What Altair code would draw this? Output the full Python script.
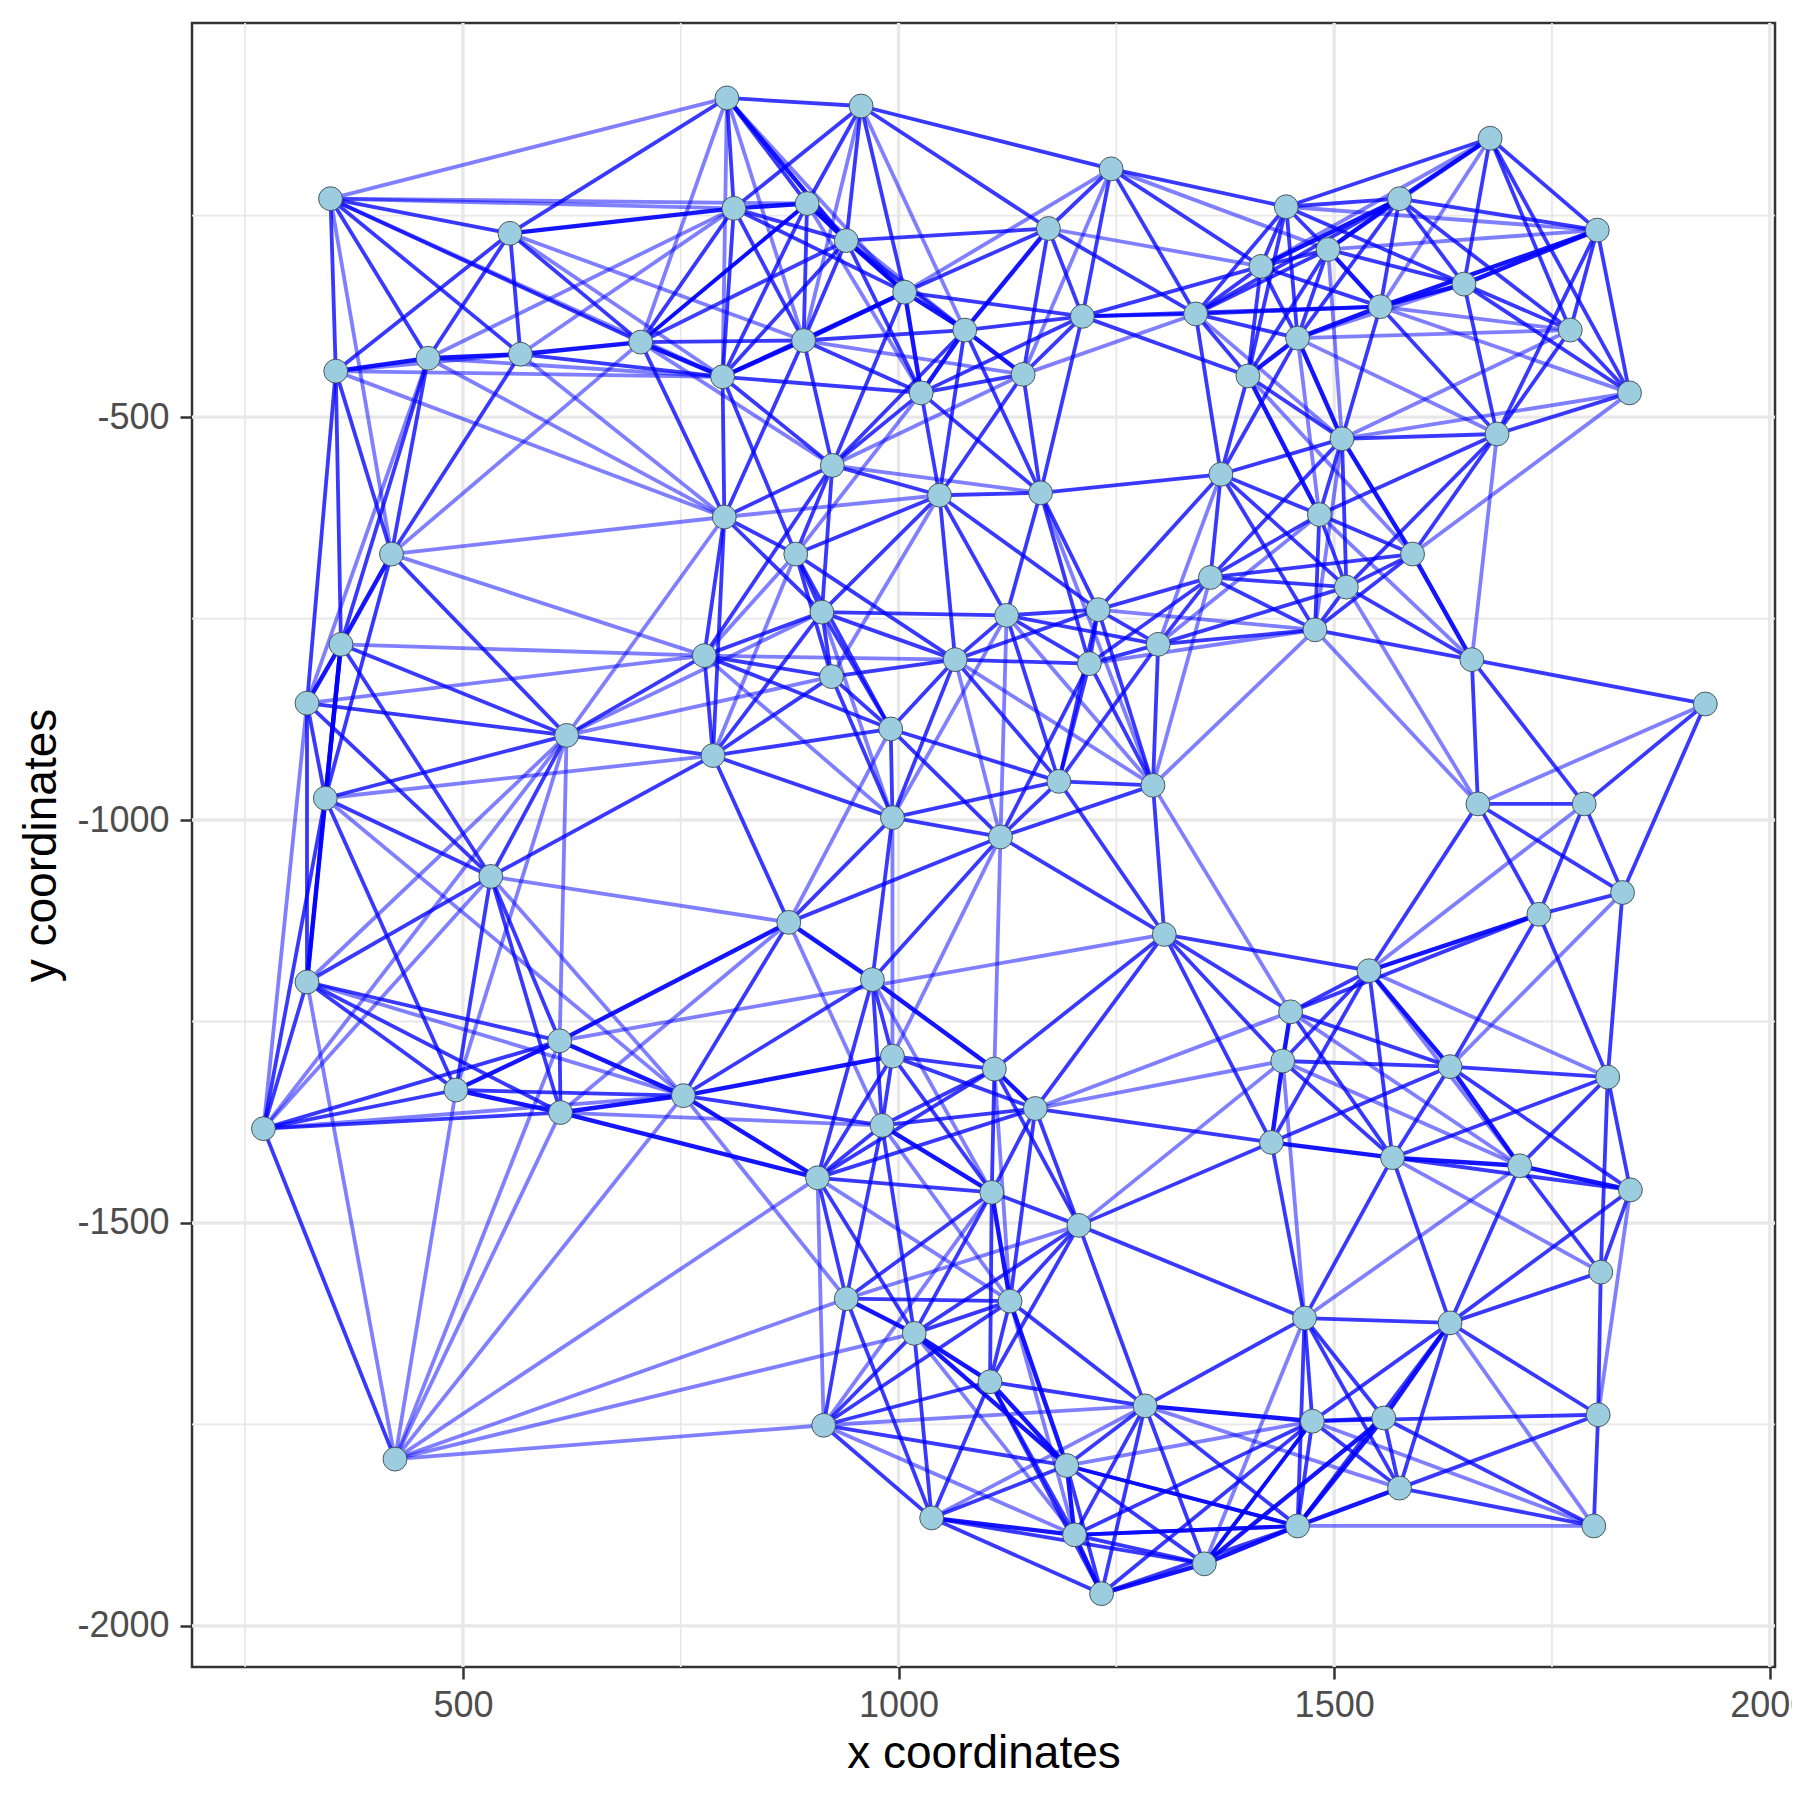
import altair as alt
import pandas as pd

node_x = [803,957,1244,1679,348,554,811,895,940,1172,1445,1575,1802,1493,1416,1007,1649,1553,1341,1211,
          1076,1771,1458,891,704,566,460,354,798,1143,1401,1026,1839,1687,1509,924,1370,1047,1163,1483,
          800,418,882,1590,1358,1514,912,1124,1229,1478,360,1298,777,1065,1219,1658,923,321,1926,619,
          991,787,1184,1292,342,1665,1787,993,1117,532,1831,1735,874,1305,1540,970,321,1450,611,993,
          1441,1110,1633,1814,492,753,1157,612,981,271,1428,1567,1713,907,1840,1107,1207,1806,940,1128,
          1466,1633,1018,1105,1283,1803,1475,1557,914,422,1193,1575,1038,1458,1798,1202,1351,1233]
node_y = [-104,-114,-192,-154,-229,-272,-241,-235,-281,-266,-239,-229,-268,-292,-313,-345,-335,-363,-372,-375,
          -392,-392,-402,-405,-407,-422,-427,-443,-450,-447,-449,-470,-470,-521,-527,-560,-571,-597,-594,-621,
          -624,-670,-670,-670,-699,-711,-742,-746,-739,-764,-782,-782,-796,-801,-806,-801,-822,-855,-856,-895,
          -887,-920,-952,-957,-973,-980,-980,-997,-1021,-1070,-1090,-1117,-1127,-1142,-1187,-1198,-1201,-1238,-1274,-1293,
          -1299,-1309,-1306,-1319,-1335,-1342,-1358,-1363,-1379,-1383,-1400,-1419,-1429,-1444,-1459,-1462,-1503,-1561,-1594,-1597,
          -1618,-1624,-1637,-1697,-1727,-1738,-1746,-1742,-1751,-1793,-1801,-1829,-1866,-1876,-1876,-1887,-1923,-1960]

heavy_edges = [(25,26),(24,25),(26,27),(5,6),(24,28),(41,50),(50,57),(50,76),(50,64),(84,87),(78,85),(85,87),(85,93),
    (87,93),(72,78),(72,75),(78,84),(79,85),(6,7),(7,8),(0,8),(8,15),(15,20),(20,9),(15,23),(23,28),(20,29),(31,20),
    (15,31),(11,14),(11,13),(3,11),(12,17),(12,16),(16,17),(17,22),(22,30),(30,39),(22,34),(34,43),(13,17),(43,55),
    (71,74),(77,80),(80,90),(74,82),(82,92),(90,91),(91,92),(92,94),(101,107),(107,113),(107,116),(111,113),(113,116),
    (116,117),(115,117),(112,115),(102,103),(102,110),(103,110),(110,115),(99,110),(75,81),(88,95),(95,99),(81,86),
    (104,106),(98,102)]

strong_edges = [(4,5),(4,27),(4,26),(4,25),(4,24),(5,0),(5,27),(5,26),(5,25),(5,24),(26,41),(26,50),(25,28),(25,41),
    (24,40),(24,6),(24,7),(24,23),(27,50),(27,57),(27,41),(41,59),(41,64),(50,59),(50,69),(57,59),(57,69),(57,64),(57,76),
    (64,59),(64,69),(64,84),(64,76),(64,89),(59,52),(59,61),(59,69),(61,69),(61,72),(61,40),(61,52),(61,46),(61,56),(61,60),(61,67),
    (69,76),(69,84),(69,78),(69,87),(76,78),(76,84),(76,87),(76,89),(78,89),(78,87),(84,85),(84,89),(87,89),(85,72),(85,88),(85,75),
    (89,109),(93,98),(93,102),(93,75),(93,79),(93,88),(93,81),(93,86),(93,95),(108,98),(108,102),(108,99),(108,103),(108,110),(108,112),
    (42,46),(42,56),(42,53),(42,60),(46,60),(46,47),(46,53),(46,52),(46,56),(46,35),(46,37),(46,40),(53,47),(53,48),(53,54),(53,56),
    (53,60),(53,67),(53,62),(53,37),(47,37),(47,38),(47,48),(47,51),(47,54),(47,62),(48,54),(48,51),(48,38),(48,37),(48,36),(48,44),
    (48,63),(48,62),(54,38),(54,62),(54,68),(54,44),(54,51),(54,63),(51,63),(51,44),(51,49),(51,62),(51,45),(63,62),(63,68),(63,73),
    (62,60),(62,67),(62,68),(62,73),(68,60),(68,67),(68,72),(68,73),(68,75),(67,60),(67,75),(67,72),(67,56),(60,56),(60,52),(56,52),
    (52,40),(52,35),(42,35),(42,40),(42,28),(42,37),(55,58),(55,65),(55,66),(58,66),(58,70),(65,66),(65,71),(65,70),(65,74),(66,71),
    (66,70),(70,71),(70,83),(71,82),(71,83),(71,77),(74,73),(74,77),(74,80),(74,90),(74,91),(73,77),(73,80),(73,90),(73,81),(73,86),
    (77,82),(77,91),(80,82),(80,91),(82,83),(82,90),(82,91),(82,94),(83,91),(83,92),(83,94),(83,97),(90,86),(90,96),(90,100),(91,100),
    (91,101),(91,94),(92,97),(92,101),(94,97),(94,101),(97,105),(97,101),(100,101),(100,106),(100,113),(100,107),(100,111),(96,100),
    (100,104),(101,105),(101,106),(101,111),(101,113),(105,106),(105,111),(105,114),(106,107),(106,111),(106,113),(106,116),(107,111),
    (107,114),(111,114),(113,115),(113,110),(104,113),(79,81),(79,86),(79,88),(79,95),(75,79),(75,88),(81,88),(81,95),(81,96),(86,88),
    (86,95),(86,96),(86,99),(88,98),(88,102),(95,96),(95,98),(95,102),(95,103),(96,99),(96,102),(96,103),(96,104),(98,99),(98,112),
    (99,102),(99,103),(99,104),(102,112),(103,104),(103,112),(103,115),(103,117),(104,110),(104,115),(104,117),(104,116),(110,112),
    (110,113),(110,116),(110,117),(112,117),(112,116),(115,116),(115,113),(115,106),(117,113),(117,106),(116,106),(0,1),(0,6),(0,7),
    (1,6),(1,7),(1,8),(1,15),(1,2),(1,9),(2,9),(2,19),(2,18),(2,10),(2,14),(6,8),(6,15),(6,23),(6,28),(7,15),(7,23),(7,28),(7,24),
    (8,9),(8,20),(8,23),(8,28),(8,31),(15,9),(15,19),(15,28),(15,35),(20,19),(20,23),(20,35),(20,37),(20,38),(9,19),(9,29),(9,18),
    (19,18),(19,29),(19,31),(19,38),(19,14),(19,17),(19,30),(29,31),(29,37),(29,38),(31,28),(31,23),(31,35),(31,37),(31,38),(23,40),
    (23,35),(28,40),(28,35),(35,37),(35,40),(37,38),(38,36),(36,44),(3,10),(3,12),(3,16),(3,21),(3,32),(10,11),(10,16),(10,13),(10,18),
    (10,30),(10,14),(10,22),(11,12),(11,16),(11,17),(11,18),(11,21),(11,22),(12,21),(12,32),(12,33),(13,14),(13,16),(13,18),(13,22),
    (13,30),(14,17),(14,18),(14,22),(14,30),(16,21),(16,32),(16,33),(17,18),(17,33),(17,34),(21,32),(21,33),(22,18),(22,36),(30,18),
    (30,34),(30,36),(18,36),(34,33),(34,36),(34,39),(34,45),(34,44),(32,33),(33,39),(33,43),(33,45),(39,36),(39,43),(39,44),(39,45),
    (39,49),(36,49),(36,45),(43,45),(43,44),(43,49),(45,44),(45,49),(45,55),(49,44),(49,55)]

weak_edges = [(4,0),(4,6),(4,7),(4,41),(4,28),(5,28),(5,23),(26,6),(26,57),(26,40),(26,28),(27,40),(27,28),(27,25),(25,6),(25,40),
    (24,41),(24,0),(24,8),(24,35),(41,52),(41,40),(50,52),(57,52),(57,89),(64,61),(64,85),(59,56),(59,46),(59,40),(59,76),(59,89),
    (59,84),(59,78),(69,89),(69,72),(69,85),(76,85),(76,109),(78,73),(78,109),(84,109),(85,89),(72,87),(87,88),(87,109),(85,98),(85,109),
    (93,108),(93,109),(98,109),(102,109),(108,109),(46,67),(53,52),(67,47),(72,60),(53,68),(53,63),(47,68),(47,63),(38,63),(63,44),
    (63,49),(63,77),(68,79),(68,81),(67,79),(67,52),(56,37),(42,52),(42,61),(40,61),(31,42),(54,49),(49,65),(45,65),(0,28),(0,15),(0,23),
    (1,23),(1,20),(2,15),(2,29),(2,13),(7,20),(7,31),(8,24),(9,14),(18,29),(29,23),(29,35),(35,38),(37,40),(3,13),(3,14),(3,17),(10,12),
    (12,13),(13,34),(16,22),(17,21),(17,32),(21,22),(21,34),(22,39),(22,33),(30,43),(18,34),(34,32),(32,43),(33,55),(39,55),(39,51),
    (36,51),(49,48),(34,49),(58,65),(66,74),(70,82),(74,83),(74,92),(77,92),(77,86),(80,92),(80,86),(80,96),(80,100),(91,97),(92,100),
    (94,105),(100,116),(101,114),(106,114),(113,114),(104,111),(75,95),(72,88),(88,99),(93,99),(81,99),(95,108),(96,98),(99,115),(102,115),
    (104,112),(108,115),(108,104),(110,106)]

x_major = [500, 1000, 1500, 2000]
x_minor = [250, 750, 1250, 1750]
y_major = [-500, -1000, -1500, -2000]
y_minor = [-250, -750, -1250, -1750]

FONT = "Liberation Sans"
x_scale = alt.Scale(domain=[189, 2006], nice=False, zero=False)
y_scale = alt.Scale(domain=[-2051, -11], nice=False, zero=False)

x_axis = alt.Axis(values=x_major, grid=False, domain=False, tickColor="#333333", tickWidth=2.5, tickSize=12,
                  labelFontSize=36, labelColor="#4D4D4D", labelFont=FONT, labelPadding=9,
                  titleFont=FONT, titleFontSize=46, titleFontWeight="normal", titleColor="black", titlePadding=8,
                  labelExpr="toString(datum.value)", labelFlush=False)
y_axis = alt.Axis(values=y_major, grid=False, domain=False, tickColor="#333333", tickWidth=2.5, tickSize=12,
                  labelFontSize=36, labelColor="#4D4D4D", labelFont=FONT, labelPadding=11,
                  titleFont=FONT, titleFontSize=46, titleFontWeight="normal", titleColor="black", titlePadding=11,
                  labelExpr="toString(datum.value)")
x_enc = alt.X("x:Q", scale=x_scale, title="x coordinates", axis=x_axis)
y_enc = alt.Y("y:Q", scale=y_scale, title="y coordinates", axis=y_axis)


def edge_frame(pairs):
    return pd.DataFrame(
        [{"x": node_x[a], "y": node_y[a], "x2": node_x[b], "y2": node_y[b]} for a, b in pairs]
    )


def vgrid(vals, w):
    return alt.Chart(pd.DataFrame({"x": vals})).mark_rule(color="#E8E8E8", strokeWidth=w).encode(x=x_enc)


def hgrid(vals, w):
    return alt.Chart(pd.DataFrame({"y": vals})).mark_rule(color="#E8E8E8", strokeWidth=w).encode(y=y_enc)


def edges(pairs, op, w):
    return alt.Chart(edge_frame(pairs)).mark_rule(color="#0000FF", strokeWidth=w, opacity=op).encode(
        x=x_enc, y=y_enc, x2="x2:Q", y2="y2:Q"
    )


heavy_set = {tuple(sorted(p)) for p in heavy_edges}
strong_only = [p for p in strong_edges if tuple(sorted(p)) not in heavy_set]
strong_set = heavy_set | {tuple(sorted(p)) for p in strong_only}
weak_only = [p for p in weak_edges if tuple(sorted(p)) not in strong_set]

node_table = pd.DataFrame({"x": node_x, "y": node_y})

points = alt.Chart(node_table).mark_circle(
    size=570, color="#9CCDDE", opacity=1, stroke="#3A4A50", strokeWidth=0.9
).encode(x=x_enc, y=y_enc)

chart = alt.layer(
    vgrid(x_minor, 1.8), hgrid(y_minor, 1.8), vgrid(x_major, 3.4), hgrid(y_major, 3.4),
    edges(weak_only, 0.5, 3.8), edges(strong_only, 0.78, 3.8), edges(heavy_edges, 0.92, 4.4), points,
).properties(
    width=1583,
    height=1644,
    padding={"left": 184, "top": 15, "right": 17, "bottom": 125},
    autosize=alt.AutoSizeParams(type="none"),
    background="white",
).configure_view(stroke="#333333", strokeWidth=2.5)

chart.save("out.html", embed_options={"renderer": "svg", "actions": False})
